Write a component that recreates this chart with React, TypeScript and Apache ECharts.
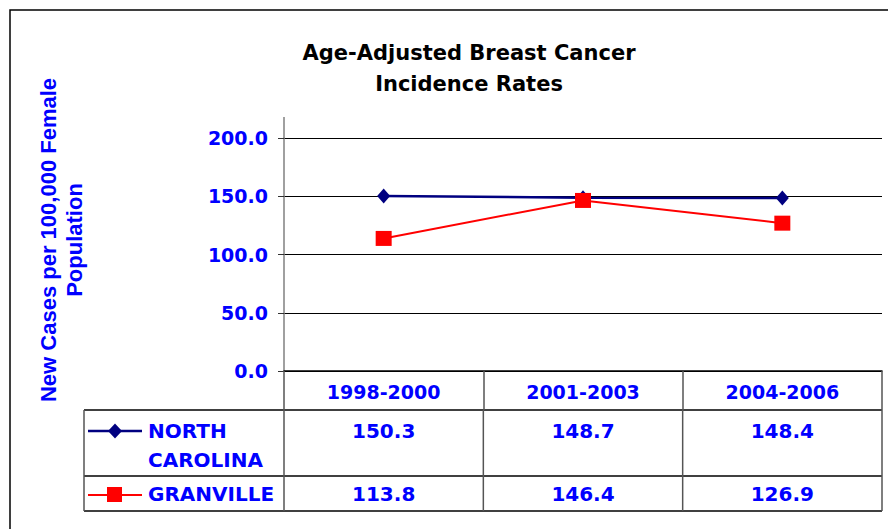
import React, { useEffect, useRef } from "react";
import * as echarts from "echarts";

const categories = ["1998-2000", "2001-2003", "2004-2006"];
const northCarolina = [150.3, 148.7, 148.4];
const granville = [113.8, 146.4, 126.9];
const seriesNames = ["NORTH\nCAROLINA", "GRANVILLE"];
const yMin = 0;
const yMax = 200;
const yInterval = 50;

const TITLE = "Age-Adjusted Breast Cancer\nIncidence Rates";
const Y_NAME = "New Cases per 100,000 Female\nPopulation";
const BLUE = "#0000FF";
const NAVY = "#000080";
const RED = "#FF0000";
const FONT = '"DejaVu Sans", Verdana, sans-serif';

export default function App() {
  const ref = useRef<HTMLDivElement>(null);
  useEffect(() => {
    if (!ref.current) return;
    const chart = echarts.init(ref.current, undefined, { renderer: "svg" });
    const gridLeft = 284;
    const gridRight = 882;
    const gridTop = 138;
    const axisY = 371;
    chart.setOption({
      animation: false,
      backgroundColor: "#fff",
      title: {
        text: TITLE,
        left: 464,
        top: 32,
        textAlign: "center",
        textStyle: {
          fontFamily: FONT,
          fontWeight: "bold",
          fontSize: 21,
          lineHeight: 31,
          color: "#000",
        },
      },
      grid: {
        left: gridLeft,
        right: 888 - gridRight,
        top: gridTop,
        bottom: 529 - axisY,
        containLabel: false,
      },
      xAxis: {
        type: "category",
        data: categories,
        boundaryGap: true,
        axisLine: { show: true, lineStyle: { color: "#000", width: 1.5 } },
        axisTick: {
          show: true,
          length: 39,
          inside: false,
          alignWithLabel: false,
          lineStyle: { color: "#555", width: 1.5 },
        },
        axisLabel: {
          margin: 11,
          color: BLUE,
          fontFamily: FONT,
          fontWeight: "bold",
          fontSize: 19,
        },
        splitLine: { show: false },
      },
      yAxis: {
        type: "value",
        min: yMin,
        max: yMax,
        interval: yInterval,
        axisLine: { show: true, lineStyle: { color: "#808080", width: 1.5 } },
        axisTick: { show: true, length: 6, lineStyle: { color: "#333", width: 1 } },
        axisLabel: {
          margin: 16,
          color: BLUE,
          fontFamily: FONT,
          fontWeight: "bold",
          fontSize: 19,
          formatter: (v: number) => v.toFixed(1),
        },
        splitLine: { show: true, lineStyle: { color: "#000", width: 1 } },
      },
      series: [
        {
          name: seriesNames[0],
          type: "line",
          data: northCarolina,
          symbol: "diamond",
          symbolSize: [13, 15],
          lineStyle: { color: NAVY, width: 2.5 },
          itemStyle: { color: NAVY },
          z: 3,
        },
        {
          name: seriesNames[1],
          type: "line",
          data: granville,
          symbol: "rect",
          symbolSize: [16, 15],
          lineStyle: { color: RED, width: 2 },
          itemStyle: { color: RED },
          z: 4,
        },
      ],
    });

    const xs = categories.map((c) => chart.convertToPixel({ xAxisIndex: 0 }, c) as number);
    const tableLeft = 84;
    const rowLines = [410, 476, 511];
    const colLines = [tableLeft, gridLeft, ...xs.slice(0, -1).map((x, i) => (x + xs[i + 1]) / 2), gridRight];
    const rowTextY = [431, 494];
    const rows = [northCarolina, granville];

    const txt = (text: string, x: number, y: number, align: string, opts: any = {}) => ({
      type: "text",
      x,
      y,
      z: 10,
      style: {
        text,
        fill: BLUE,
        font: `bold 20px ${FONT}`,
        align,
        verticalAlign: "middle",
        ...opts,
      },
    });

    const graphic: any[] = [
      {
        type: "rect",
        shape: { x: 10, y: 10, width: 1000, height: 700 },
        style: { fill: "none", stroke: "#000", lineWidth: 1.5 },
        z: 1,
      },
      {
        type: "line",
        shape: { x1: gridLeft, y1: 117, x2: gridLeft, y2: gridTop },
        style: { stroke: "#808080", lineWidth: 1.5 },
      },
      {
        type: "text",
        x: 61,
        y: 240,
        rotation: Math.PI / 2,
        style: {
          text: Y_NAME,
          fill: BLUE,
          font: 'bold 22px "Liberation Sans", Arial, sans-serif',
          align: "center",
          verticalAlign: "middle",
          lineHeight: 26,
        },
      },
    ];
    rowLines.forEach((y) =>
      graphic.push({
        type: "line",
        shape: { x1: tableLeft, y1: y, x2: gridRight, y2: y },
        style: { stroke: "#000", lineWidth: 1.5 },
      })
    );
    colLines.forEach((x) =>
      graphic.push({
        type: "line",
        shape: { x1: x, y1: rowLines[0], x2: x, y2: rowLines[2] },
        style: { stroke: "#555", lineWidth: 1.5 },
      })
    );
    rows.forEach((vals, r) => {
      vals.forEach((v, i) => graphic.push(txt(v.toFixed(1), xs[i], rowTextY[r], "center")));
    });
    // row headers
    graphic.push(txt("NORTH", 148, 431, "left"));
    graphic.push(txt("CAROLINA", 148, 460, "left"));
    graphic.push(txt("GRANVILLE", 148, 494, "left"));
    // legend keys
    graphic.push({
      type: "line",
      shape: { x1: 88, y1: 431, x2: 142, y2: 431 },
      style: { stroke: NAVY, lineWidth: 2.5 },
    });
    graphic.push({
      type: "polygon",
      shape: { points: [[115, 423.5], [122, 431], [115, 438.5], [108, 431]] },
      style: { fill: NAVY },
    });
    graphic.push({
      type: "line",
      shape: { x1: 88, y1: 495, x2: 142, y2: 495 },
      style: { stroke: RED, lineWidth: 2 },
    });
    graphic.push({
      type: "rect",
      shape: { x: 107, y: 487, width: 15, height: 15 },
      style: { fill: RED },
    });

    chart.setOption({ graphic });
    return () => chart.dispose();
  }, []);
  return (
    <div
      ref={ref}
      style={{ position: "fixed", left: 0, top: 0, width: 888, height: 529 }}
    />
  );
}
